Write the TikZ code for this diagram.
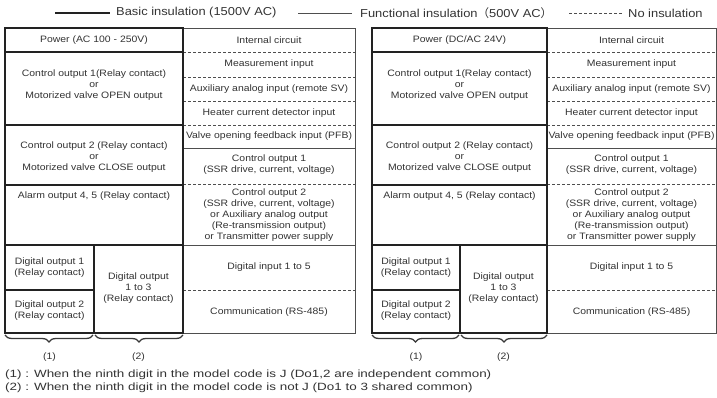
\documentclass[tikz,border=0pt]{standalone}
\usepackage{fontspec}
\setmainfont{Liberation Sans}[FakeStretch=1.12]
\newfontfamily\notefont{Liberation Sans}[FakeStretch=1.28]
\newfontfamily\cjkfont{Noto Sans CJK JP}
\usetikzlibrary{decorations.pathreplacing}
\definecolor{txt}{HTML}{333333}
\definecolor{ln}{HTML}{222222}
\tikzset{
  basic/.style={draw=ln, line width=2.8pt},
  func/.style={draw=ln!80, line width=0.9pt},
  noins/.style={draw=ln!80, line width=0.9pt, dash pattern=on 3pt off 2pt},
  cell/.style={font=\fontsize{9.3}{11}\selectfont, text=txt, align=center, inner sep=0pt},
  legend/.style={font=\fontsize{11.5}{13}\selectfont, text=txt, anchor=west, inner sep=0pt},
  note/.style={font=\notefont\fontsize{10.5}{12}\selectfont, text=txt, anchor=west, inner sep=0pt},
  brc/.style={draw=ln!90, line width=1.3pt, decorate, decoration={brace, mirror, amplitude=7pt}}
}
\newcommand{\drawpanel}[6]{%
  % #1 prefix, #2 left x, #3 divider x, #4 inner split x, #5 right x, #6 power text
  \draw[func] (#3,28) -- (#5,28) -- (#5,333) -- (#3,333);
  \draw[noins] (#3,52) -- (#5,52);
  \draw[noins] (#3,77) -- (#5,77);
  \draw[noins] (#3,101) -- (#5,101);
  \draw[noins] (#3,125) -- (#5,125);
  \draw[func] (#3,148) -- (#5,148);
  \draw[noins] (#3,184) -- (#5,184);
  \draw[func] (#3,245) -- (#5,245);
  \draw[noins] (#3,290) -- (#5,290);
  \draw[basic] (#2,28) rectangle (#3,333);
  \draw[basic] (#2,52) -- (#3,52);
  \draw[basic] (#2,125) -- (#3,125);
  \draw[basic] (#2,185) -- (#3,185);
  \draw[basic] (#2,245) -- (#3,245);
  \draw[basic] (#4,245) -- (#4,333);
  \draw[basic] (#2,290) -- (#4,290);
  % left column texts
  \node[cell] (#1pow) at ({(#2+#3)/2},40) {#6};
  \node[cell] (#1co1) at ({(#2+#3)/2},85) {Control output 1(Relay contact)\\or\\Motorized valve OPEN output};
  \node[cell] (#1co2) at ({(#2+#3)/2},157) {Control output 2 (Relay contact)\\or\\Motorized valve CLOSE output};
  \node[cell] (#1alm) at ({(#2+#3)/2},196) {Alarm output 4, 5 (Relay contact)};
  \node[cell] (#1do1) at ({(#2+#4)/2},268) {Digital output 1\\(Relay contact)};
  \node[cell] (#1do2) at ({(#2+#4)/2},311) {Digital output 2\\(Relay contact)};
  \node[cell] (#1do3) at ({(#4+#3)/2},288) {Digital output\\1 to 3\\(Relay contact)};
  % right column texts
  \node[cell] (#1int) at ({(#3+#5)/2},40) {Internal circuit};
  \node[cell] (#1mea) at ({(#3+#5)/2},64) {Measurement input};
  \node[cell] (#1aux) at ({(#3+#5)/2},89) {Auxiliary analog input (remote SV)};
  \node[cell] (#1hea) at ({(#3+#5)/2},113) {Heater current detector input};
  \node[cell] (#1pfb) at ({(#3+#5)/2},136) {Valve opening feedback input (PFB)};
  \node[cell] (#1ssr) at ({(#3+#5)/2},165) {Control output 1\\(SSR drive, current, voltage)};
  \node[cell] (#1cp2) at ({(#3+#5)/2},215) {Control output 2\\(SSR drive, current, voltage)\\or Auxiliary analog output\\(Re-transmission output)\\or Transmitter power supply};
  \node[cell] (#1din) at ({(#3+#5)/2},267) {Digital input 1 to 5};
  \node[cell] (#1com) at ({(#3+#5)/2},312) {Communication (RS-485)};
  % braces
  \draw[brc] (#2,335) -- (#4-1,335);
  \draw[brc] (#4+1,335) -- (#3,335);
  \node[cell] (#1b1) at ({(#2+#4)/2},357) {(1)};
  \node[cell] (#1b2) at ({(#4+#3)/2},357) {(2)};
}
\begin{document}
\begin{tikzpicture}[x=1pt,y=-1pt]
  \useasboundingbox[fill=white] (0,0) rectangle (717,398);
  % legend
  \coordinate (lga) at (55,13);
  \coordinate (lgb) at (110,13);
  \draw[basic] (lga) -- (lgb);
  \node[legend] (lgbasic) at (116,13) {Basic insulation (1500V AC)};
  \coordinate (lgc) at (298,13);
  \coordinate (lgd) at (352,13);
  \draw[func] (lgc) -- (lgd);
  \node[legend] (lgfunc) at (360,13) {Functional insulation{\cjkfont （}500V AC{\cjkfont ）}};
  \coordinate (lge) at (569,13);
  \coordinate (lgf) at (622,13);
  \draw[noins] (lge) -- (lgf);
  \node[legend] (lgno) at (628,13) {No insulation};
  % panels
  \drawpanel{L}{5}{183}{94}{355}{Power (AC 100 - 250V)}
  \drawpanel{R}{372}{547}{460}{716}{Power (DC/AC 24V)}
  % footnotes
  \node[note] (fn1) at (5,375) {(1) : When the ninth digit in the model code is J (Do1,2 are independent common)};
  \node[note] (fn2) at (5,388) {(2) : When the ninth digit in the model code is not J (Do1 to 3 shared common)};
\end{tikzpicture}
\end{document}
